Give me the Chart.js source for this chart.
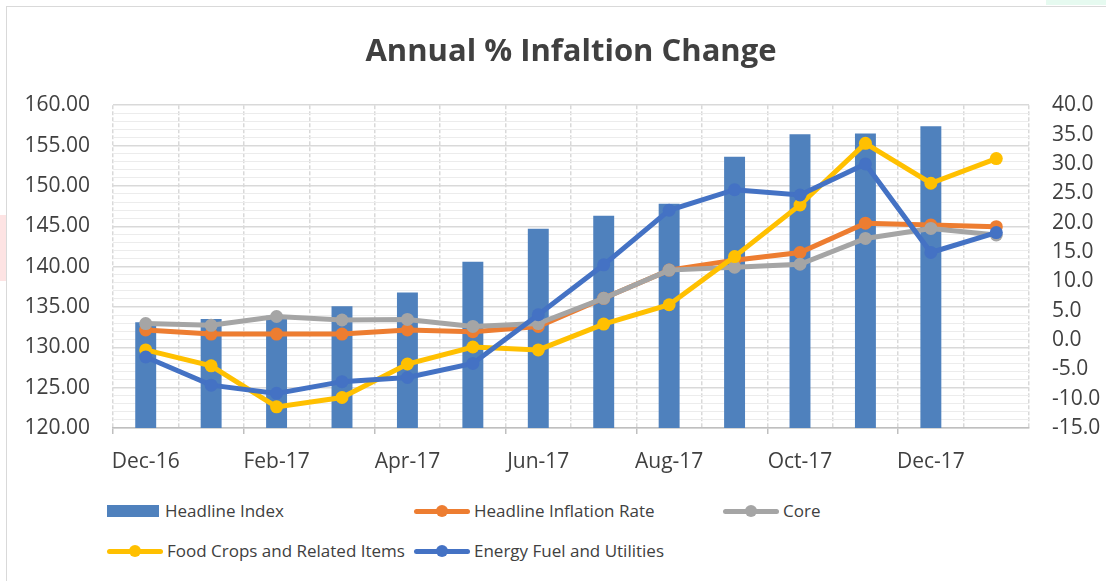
<!DOCTYPE html>
<html>
<head>
<meta charset="utf-8">
<script src="https://cdn.jsdelivr.net/npm/chart.js@4/dist/chart.umd.min.js"></script>
<style>
  body { margin: 0; background: #fff; }
  #wrap { position: relative; width: 1106px; height: 581px; overflow: hidden; background: #fff; }
  #frame { position: absolute; left: 6px; top: 6px; right: -2px; bottom: -2px; border-left: 1.5px solid #d9d9d9; border-top: 1.5px solid #d9d9d9; }
  #mark1 { position: absolute; left: 0; top: 215px; width: 6px; height: 66px; background: #fde3e3; }
  #mark2 { position: absolute; left: 1046px; top: 0; width: 60px; height: 5px; background: #e6faf0; }
  #chart { position: absolute; left: 0; top: 0; }
  .item { position: absolute; font: 17px "Open Sans", sans-serif; color: #404040; white-space: nowrap; line-height: 20px; }
  .sw { position: absolute; top: 50%; }
  .dot { position: absolute; width: 12px; height: 12px; border-radius: 50%; top: -6px; }
</style>
</head>
<body>
<div id="wrap">
  <div id="mark1"></div>
  <div id="mark2"></div>
  <div id="frame"></div>
  <canvas id="chart" width="1106" height="480"></canvas>
  <div id="legend"></div>
</div>
<script>
const months = ["Dec-16", "Jan-17", "Feb-17", "Mar-17", "Apr-17", "May-17", "Jun-17",
                "Jul-17", "Aug-17", "Sep-17", "Oct-17", "Nov-17", "Dec-17", "Jan-18"];
const headlineIndex = [133.1, 133.5, 133.9, 135.1, 136.8, 140.6, 144.7, 146.3, 147.8, 153.6, 156.4, 156.5, 157.4, null];
const headlineRate = [1.7, 1.0, 1.0, 1.0, 1.7, 1.4, 2.3, 7.1, 11.9, 13.6, 14.9, 19.9, 19.6, 19.3];
const core = [2.8, 2.5, 4.0, 3.4, 3.5, 2.3, 2.8, 7.1, 11.9, 12.4, 12.9, 17.3, 19.0, 17.9];
const foodCrops = [-1.7, -4.4, -11.4, -9.8, -4.1, -1.2, -1.7, 2.7, 6.0, 14.2, 23.0, 33.5, 26.7, 30.9];
const energy = [-2.9, -7.7, -9.1, -7.1, -6.4, -4.0, 4.3, 12.8, 22.1, 25.6, 24.7, 30.0, 14.9, 18.3];

const textColor = "#404040";
const gridColor = "#d9d9d9";

function lineSet(label, data, color, order) {
    return {
        type: "line",
        label: label,
        data: data,
        borderColor: color,
        backgroundColor: color,
        borderWidth: 5,
        pointRadius: 6.5,
        pointBorderWidth: 0,
        pointBackgroundColor: color,
        tension: 0,
        yAxisID: "y1",
        order: order
    };
}

const ctx = document.getElementById("chart").getContext("2d");
const chart = new Chart(ctx, {
    data: {
        labels: months,
        datasets: [
            {
                type: "bar",
                label: "Headline Index",
                data: headlineIndex,
                backgroundColor: "#4f81bd",
                yAxisID: "y",
                barPercentage: 0.32,
                categoryPercentage: 1,
                order: 5
            },
            lineSet("Headline Inflation Rate", headlineRate, "#ed7d31", 4),
            lineSet("Core", core, "#a5a5a5", 3),
            lineSet("Food Crops and Related Items", foodCrops, "#ffc000", 2),
            lineSet("Energy Fuel and Utilities", energy, "#4472c4", 1)
        ]
    },
    options: {
        responsive: false,
        animation: false,
        layout: { padding: 0 },
        plugins: {
            legend: { display: false },
            tooltip: { enabled: false },
            title: {
                display: true,
                fullSize: false,
                text: "Annual % Infaltion Change",
                color: textColor,
                font: { family: "Open Sans", size: 31, weight: "bold", lineHeight: 1.2 },
                padding: { top: 34, bottom: 34 }
            }
        },
        scales: {
            x: {
                offset: true,
                grid: {
                    offset: true,
                    color: gridColor,
                    lineWidth: 1.5,
                    drawTicks: true,
                    tickLength: 6,
                    tickBorderDash: [],
                    tickColor: c => (c.index % 2 === 0 ? "#bfbfbf" : "rgba(0,0,0,0)")
                },
                border: { display: true, color: "#bfbfbf", width: 1.5, dash: [4, 2] },
                ticks: {
                    autoSkip: false,
                    maxRotation: 0,
                    padding: 15,
                    color: textColor,
                    font: { family: "Open Sans", size: 21 },
                    callback: (v, i) => (i % 2 === 0 ? months[i] : "")
                },
                afterFit: s => { s.height = 52; }
            },
            y: {
                position: "left",
                min: 120,
                max: 160,
                grid: { color: gridColor, lineWidth: 1.5, drawTicks: false },
                border: { display: false },
                ticks: {
                    stepSize: 5,
                    padding: 23,
                    color: textColor,
                    font: { family: "Open Sans", size: 21 },
                    callback: v => v.toFixed(2)
                },
                afterFit: s => { s.width = 113; }
            },
            yMinor: {
                position: "left",
                min: 120,
                max: 160,
                grid: {
                    color: c => (c.tick && c.tick.value % 5 === 0 ? "rgba(0,0,0,0)" : "#ececec"),
                    lineWidth: 1,
                    drawTicks: false
                },
                border: { display: false },
                ticks: { display: false, stepSize: 1 },
                afterFit: s => { s.width = 0; }
            },
            y1: {
                position: "right",
                min: -15,
                max: 40,
                grid: { drawOnChartArea: false, drawTicks: false },
                border: { display: false },
                ticks: {
                    stepSize: 5,
                    padding: 23,
                    color: textColor,
                    font: { family: "Open Sans", size: 21 },
                    callback: v => v.toFixed(1)
                },
                afterFit: s => { s.width = 77; }
            }
        }
    }
});

// Excel-style legend laid out in columns under the plot
const slots = [[107, 511], [414, 511], [723, 511], [107, 551], [414, 551]];
const legend = document.getElementById("legend");
chart.data.datasets.forEach((ds, i) => {
    const item = document.createElement("div");
    item.className = "item";
    const [x, y] = slots[i];
    item.style.left = x + "px";
    item.style.top = (y - 10) + "px";
    item.style.paddingLeft = (ds.type === "bar" ? 58 : 60) + "px";
    const sw = document.createElement("span");
    sw.className = "sw";
    if (ds.type === "bar") {
        sw.style.cssText = "left:0;width:52px;height:12px;margin-top:-6px;background:" + ds.backgroundColor;
    } else {
        sw.style.cssText = "left:0;width:56px;height:5px;margin-top:-2.5px;border-radius:3px;background:" + ds.borderColor;
        const dot = document.createElement("span");
        dot.className = "dot";
        dot.style.left = "22px";
        dot.style.top = "-3.5px";
        dot.style.background = ds.borderColor;
        sw.appendChild(dot);
    }
    item.appendChild(sw);
    item.appendChild(document.createTextNode(ds.label));
    legend.appendChild(item);
});
</script>
</body>
</html>
